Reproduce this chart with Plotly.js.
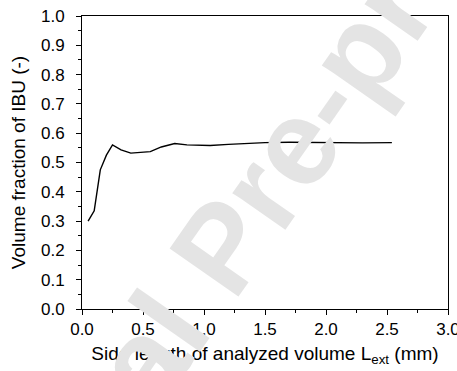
<!DOCTYPE html>
<html>
<head>
<meta charset="utf-8">
<script src="https://cdn.plot.ly/plotly-3.0.1.min.js"></script>
<style>html,body{margin:0;padding:0;background:#fff;}#chart{width:457px;height:371px;}</style>
</head>
<body>
<div id="chart"></div>
<script>
const sideLength = [0.05, 0.10, 0.15, 0.20, 0.25, 0.32, 0.40, 0.50, 0.56, 0.65, 0.76, 0.86, 0.95, 1.05, 1.20, 1.35, 1.50, 1.70, 1.90, 2.10, 2.30, 2.54];
const volumeFraction = [0.30, 0.335, 0.475, 0.525, 0.56, 0.543, 0.532, 0.535, 0.537, 0.553, 0.565, 0.560, 0.558, 0.558, 0.562, 0.566, 0.568, 0.569, 0.568, 0.568, 0.567, 0.568];
const xTicks = [0, 0.5, 1.0, 1.5, 2.0, 2.5, 3.0];
const yTicks = [0, 0.1, 0.2, 0.3, 0.4, 0.5, 0.6, 0.7, 0.8, 0.9, 1.0];

const fam = 'Liberation Sans, Arial, sans-serif';
const tickFont = {family: fam, size: 17, color: '#000'};
const titleFont = {family: fam, size: 19, color: '#000'};

const trace = {
  x: sideLength, y: volumeFraction, type: 'scatter', mode: 'lines',
  line: {color: '#000', width: 1.4}, hoverinfo: 'skip'
};

const layout = {
  width: 457, height: 371,
  margin: {l: 82, r: 9, t: 16, b: 62},
  paper_bgcolor: '#fff', plot_bgcolor: '#fff',
  showlegend: false,
  font: tickFont,
  xaxis: {
    range: [0, 3], tickvals: xTicks, ticktext: xTicks.map(v => v.toFixed(1)),
    ticks: 'outside', ticklen: 5, tickwidth: 1, tickcolor: '#000',
    showline: true, linecolor: '#000', linewidth: 1, mirror: true,
    showgrid: false, zeroline: false, ticklabeloverflow: 'allow',
    minor: {dtick: 0.25, ticks: 'outside', ticklen: 3, tickwidth: 1, tickcolor: '#000', showgrid: false},
    tickfont: tickFont, ticklabelstandoff: 0,
    title: {text: 'Side length of analyzed volume L<sub>ext</sub> (mm)', font: titleFont, standoff: 8}
  },
  yaxis: {
    range: [0, 1], tickvals: yTicks, ticktext: yTicks.map(v => v.toFixed(1)),
    ticks: 'outside', ticklen: 5, tickwidth: 1, tickcolor: '#000',
    showline: true, linecolor: '#000', linewidth: 1, mirror: true,
    showgrid: false, zeroline: false, ticklabeloverflow: 'allow',
    minor: {dtick: 0.05, ticks: 'outside', ticklen: 3, tickwidth: 1, tickcolor: '#000', showgrid: false},
    tickfont: tickFont, ticklabelstandoff: 8,
    title: {text: 'Volume fraction of IBU (-)', font: titleFont, standoff: 10}
  },
  annotations: [{
    text: '<b>Journal Pre-proof</b>', xref: 'paper', yref: 'paper', x: 0.381, y: 0.207,
    xanchor: 'center', yanchor: 'middle', showarrow: false, textangle: -55,
    font: {family: fam, size: 122, color: '#e4e4e4'}
  }]
};

Plotly.newPlot('chart', [trace], layout, {staticPlot: true, displayModeBar: false});
</script>
</body>
</html>
